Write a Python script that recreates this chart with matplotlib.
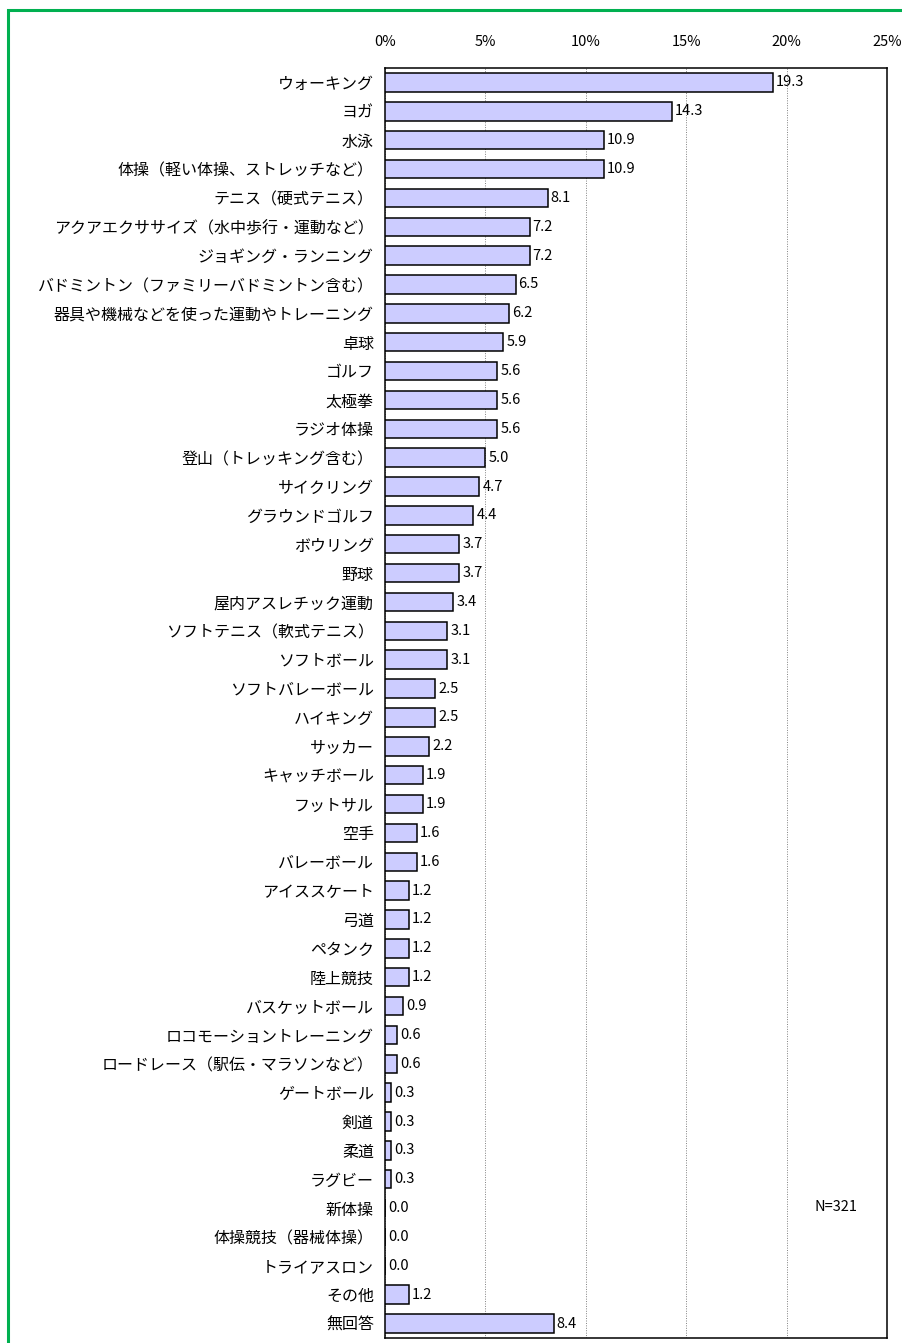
import matplotlib
matplotlib.use("Agg")
import matplotlib.pyplot as plt
import matplotlib.ticker as mticker
from matplotlib.patches import Rectangle

plt.rcParams['font.family'] = ['Noto Sans CJK JP', 'DejaVu Sans']

categories = [
    "ウォーキング", "ヨガ", "水泳", "体操（軽い体操、ストレッチなど）", "テニス（硬式テニス）",
    "アクアエクササイズ（水中歩行・運動など）", "ジョギング・ランニング",
    "バドミントン（ファミリーバドミントン含む）", "器具や機械などを使った運動やトレーニング",
    "卓球", "ゴルフ", "太極拳", "ラジオ体操", "登山（トレッキング含む）", "サイクリング",
    "グラウンドゴルフ", "ボウリング", "野球", "屋内アスレチック運動", "ソフトテニス（軟式テニス）",
    "ソフトボール", "ソフトバレーボール", "ハイキング", "サッカー", "キャッチボール", "フットサル",
    "空手", "バレーボール", "アイススケート", "弓道", "ペタンク", "陸上競技", "バスケットボール",
    "ロコモーショントレーニング", "ロードレース（駅伝・マラソンなど）", "ゲートボール", "剣道",
    "柔道", "ラグビー", "新体操", "体操競技（器械体操）", "トライアスロン", "その他", "無回答",
]
values = [
    19.3, 14.3, 10.9, 10.9, 8.1, 7.2, 7.2, 6.5, 6.2, 5.9, 5.6, 5.6, 5.6, 5.0, 4.7,
    4.4, 3.7, 3.7, 3.4, 3.1, 3.1, 2.5, 2.5, 2.2, 1.9, 1.9, 1.6, 1.6, 1.2, 1.2,
    1.2, 1.2, 0.9, 0.6, 0.6, 0.3, 0.3, 0.3, 0.3, 0.0, 0.0, 0.0, 1.2, 8.4,
]
x_ticks = [0, 5, 10, 15, 20, 25]
n_label = "N=321"

fig = plt.figure(figsize=(9.03, 13.43), dpi=100)

# 緑の枠（右と下ははみ出す）
fig.patches.append(Rectangle((8 / 903, -0.1), 1.2, 1 - 10 / 1343 + 0.1,
                             transform=fig.transFigure, fill=False,
                             edgecolor='#00B050', linewidth=2.2))

ax = fig.add_axes([385 / 903, 1 - 1338 / 1343, 502 / 903, (1338 - 68) / 1343])

y = list(range(len(categories)))
ax.barh(y, values, height=0.64, color='#CCCCFF', edgecolor='black', linewidth=1.1, zorder=3)

for yi, v in zip(y, values):
    ax.text(v + 0.15, yi, f"{v:.1f}", va='center', ha='left', fontsize=10.5, zorder=4)

ax.set_xlim(0, 25)
ax.set_ylim(len(categories) - 0.5, -0.5)
ax.set_xticks(x_ticks)
ax.xaxis.set_major_formatter(mticker.FuncFormatter(lambda v, p: f"{v:.0f}%"))
ax.xaxis.tick_top()
ax.tick_params(axis='x', length=0, pad=14, labelsize=10.5)
ax.set_yticks(y)
ax.set_yticklabels(categories, fontsize=11.5)
ax.tick_params(axis='y', length=0, pad=8)
ax.grid(axis='x', color='#808080', linestyle=(0, (1, 1.5)), linewidth=0.7, zorder=0)
for s in ax.spines.values():
    s.set_color('black')
    s.set_linewidth(1.1)

fig.text(836 / 903, 1 - 1207 / 1343, n_label, fontsize=10.5, ha='center', va='center')

fig.savefig("out.png", dpi=100)
